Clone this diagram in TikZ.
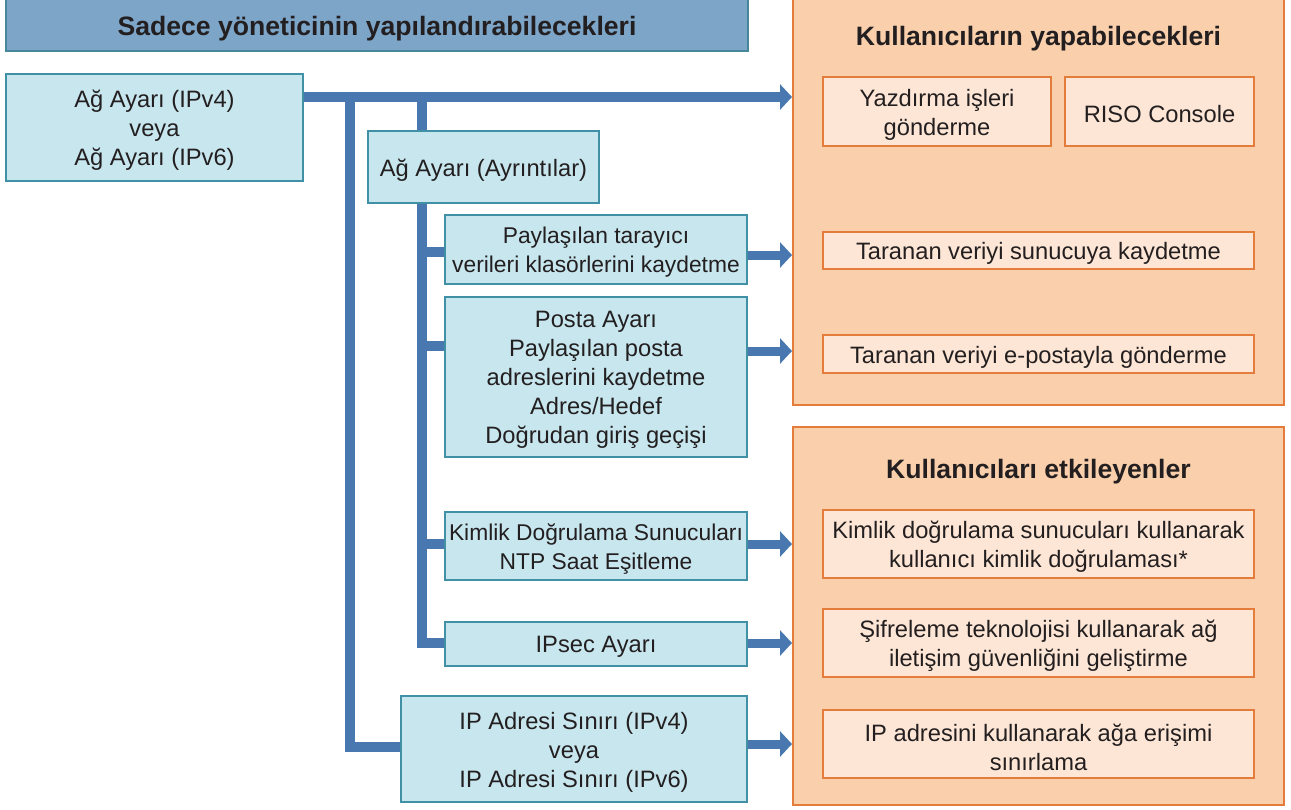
\documentclass[tikz,border=0pt]{standalone}
\usepackage{fontspec}
\setmainfont{Liberation Sans}
\usetikzlibrary{arrows.meta,backgrounds}
\definecolor{txt}{RGB}{35,31,32}
\definecolor{barfill}{RGB}{125,165,200}
\definecolor{barline}{RGB}{70,135,155}
\definecolor{bfill}{RGB}{199,230,238}
\definecolor{bline}{RGB}{64,145,165}
\definecolor{connc}{RGB}{72,120,175}
\definecolor{pfill}{RGB}{250,208,172}
\definecolor{pline}{RGB}{228,125,60}
\definecolor{ofill}{RGB}{253,230,213}
\begin{document}
\begin{tikzpicture}[x=1pt,y=-1pt,
  every node/.style={text=txt, font=\fontsize{23.7}{29}\selectfont, inner sep=0pt, align=center},
  bar/.style={draw=barline, fill=barfill, line width=1.8pt},
  bluebox/.style={draw=bline, fill=bfill, line width=1.8pt},
  panel/.style={draw=pline, fill=pfill, line width=1.5pt},
  obox/.style={draw=pline, fill=ofill, line width=1.8pt},
  lbl/.style={yshift=-3pt},
  smalllbl/.style={yshift=-3pt, font=\fontsize{22.8}{29}\selectfont},
  ptitle/.style={anchor=base, font=\bfseries\fontsize{26.6}{30}\selectfont},
  conn/.style={draw=connc, line width=10pt, line join=miter},
  arrowline/.style={draw=connc, line width=9pt, -{Triangle[width=25pt,length=12pt]}}
]
\useasboundingbox (0,0) rectangle (1291,809);

% title bar
\node[bar, minimum width=742, minimum height=52] (title) at (377,25) {};
\node[ptitle] (titlet) at (377,35) {Sadece yöneticinin yapılandırabilecekleri};

% right panels
\node[panel, minimum width=491, minimum height=409] (p1) at (1038.5,200.5) {};
\node[panel, minimum width=491, minimum height=378] (p2) at (1038.5,616) {};
\node[ptitle] (p1t) at (1038.5,45) {Kullanıcıların yapabilecekleri};
\node[ptitle] (p2t) at (1038.5,478) {Kullanıcıları etkileyenler};

\node[obox, minimum width=228, minimum height=69] (o1) at (937,111.5) {};
\node[obox, minimum width=189, minimum height=69] (o2) at (1159.5,111.5) {};
\node[obox, minimum width=431, minimum height=37] (o3) at (1038.5,250.5) {};
\node[obox, minimum width=431, minimum height=38] (o4) at (1038.5,354) {};
\node[obox, minimum width=431, minimum height=68] (o5) at (1038.5,544) {};
\node[obox, minimum width=431, minimum height=68] (o6) at (1038.5,643) {};
\node[obox, minimum width=431, minimum height=68] (o7) at (1038.5,744) {};
\node[lbl] (o1t) at (o1) {Yazdırma işleri\\gönderme};
\node[lbl] (o2t) at (o2) {RISO Console};
\node[lbl] (o3t) at (o3) {Taranan veriyi sunucuya kaydetme};
\node[lbl] (o4t) at (o4) {Taranan veriyi e-postayla gönderme};
\node[lbl] (o5t) at (o5) {Kimlik doğrulama sunucuları kullanarak\\kullanıcı kimlik doğrulaması*};
\node[lbl] (o6t) at (o6) {Şifreleme teknolojisi kullanarak ağ\\iletişim güvenliğini geliştirme};
\node[lbl] (o7t) at (o7) {IP adresini kullanarak ağa erişimi\\sınırlama};

% blue boxes
\node[bluebox, minimum width=297, minimum height=107] (b1) at (154.5,127.5) {};
\node[bluebox, minimum width=231, minimum height=72] (b2) at (483.5,167) {};
\node[bluebox, minimum width=302, minimum height=69] (b3) at (596,249.5) {};
\node[bluebox, minimum width=302, minimum height=160] (b4) at (596,377) {};
\node[bluebox, minimum width=302, minimum height=68] (b5) at (596,546) {};
\node[bluebox, minimum width=302, minimum height=44] (b6) at (596,644) {};
\node[bluebox, minimum width=346, minimum height=106] (b7) at (574,749) {};
\node[lbl] (b1t) at (b1) {Ağ Ayarı (IPv4)\\veya\\Ağ Ayarı (IPv6)};
\node[lbl] (b2t) at (b2) {Ağ Ayarı (Ayrıntılar)};
\node[smalllbl] (b3t) at (b3) {Paylaşılan tarayıcı\\verileri klasörlerini kaydetme};
\node[lbl] (b4t) at (b4) {Posta Ayarı\\Paylaşılan posta\\adreslerini kaydetme\\Adres/Hedef\\Doğrudan giriş geçişi};
\node[smalllbl] (b5t) at (b5) {Kimlik Doğrulama Sunucuları\\NTP Saat Eşitleme};
\node[lbl] (b6t) at (b6) {IPsec Ayarı};
\node[lbl] (b7t) at (b7) {IP Adresi Sınırı (IPv4)\\veya\\IP Adresi Sınırı (IPv6)};

% connector coordinates
\coordinate (t1top) at (350,97);
\coordinate (t1bot) at (350,747);
\coordinate (t2top) at (422,97);
\coordinate (t2bot) at (422,643);
\coordinate (a0) at (792,97);
\coordinate (a3) at (792,255);
\coordinate (a4) at (792,351);
\coordinate (a5) at (792,544);
\coordinate (a6) at (792,643);
\coordinate (a7) at (792,744);
\coordinate (j3) at (422,252);
\coordinate (j4) at (422,346);
\coordinate (j5) at (422,544);

\begin{scope}[on background layer]
\draw[arrowline, line width=10pt] (b1.east |- a0) -- (a0);
\draw[conn] (t1top) -- (t1bot) -- (b7.west |- t1bot);
\draw[conn] (t2top) -- (t2top |- b2.north);
\draw[conn] (t2top |- b2.south) -- (t2bot) -- (b6.west |- t2bot);
\draw[conn] (j3) -- (b3.west |- j3);
\draw[conn] (j4) -- (b4.west |- j4);
\draw[conn] (j5) -- (b5.west |- j5);
\draw[arrowline] (b3.east |- a3) -- (a3);
\draw[arrowline] (b4.east |- a4) -- (a4);
\draw[arrowline] (b5.east |- a5) -- (a5);
\draw[arrowline] (b6.east |- a6) -- (a6);
\draw[arrowline] (b7.east |- a7) -- (a7);
\end{scope}
\end{tikzpicture}
\end{document}
